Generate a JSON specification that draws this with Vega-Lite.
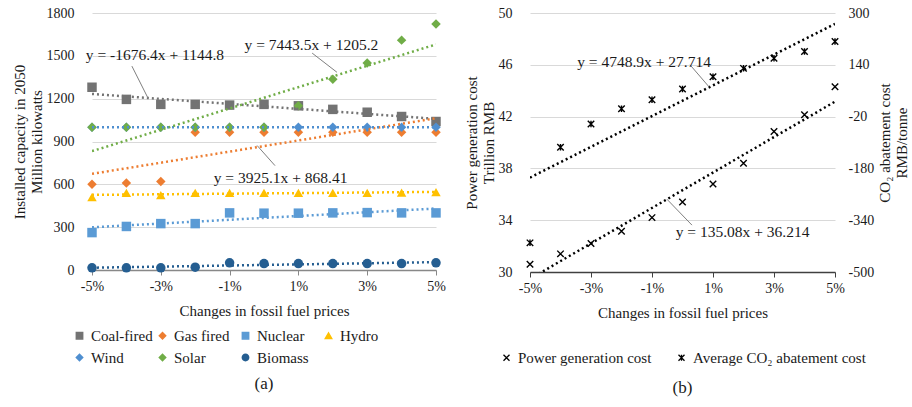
{
  "$schema": "https://vega.github.io/schema/vega-lite/v6.json",
  "padding": {"left": 12, "top": 6, "right": 5, "bottom": 5},
  "bounds": "flush",
  "spacing": 94,
  "resolve": {"scale": {"color": "independent", "shape": "independent"}, "legend": {"color": "independent", "shape": "independent"}},
  "config": {
    "font": "Liberation Serif",
    "view": {"stroke": null},
    "axis": {"labelFont": "Liberation Serif", "titleFont": "Liberation Serif", "labelFontSize": 14, "titleFontSize": 15, "titleFontWeight": "normal", "labelColor": "#1a1a1a", "titleColor": "#1a1a1a", "titleLineHeight": 17},
    "legend": {"labelFont": "Liberation Serif", "labelFontSize": 15, "labelColor": "#1a1a1a", "labelLimit": 300, "layout": {"bottom": {"anchor": "middle"}}},
    "title": {"font": "Liberation Serif", "fontWeight": "normal", "fontSize": 17, "color": "#1a1a1a"}
  },
  "datasets": {
    "cap": [
      {"x": -0.05, "series": "Coal-fired", "v": 1280}, {"x": -0.04, "series": "Coal-fired", "v": 1195}, {"x": -0.03, "series": "Coal-fired", "v": 1160}, {"x": -0.02, "series": "Coal-fired", "v": 1160}, {"x": -0.01, "series": "Coal-fired", "v": 1155}, {"x": 0, "series": "Coal-fired", "v": 1160}, {"x": 0.01, "series": "Coal-fired", "v": 1150}, {"x": 0.02, "series": "Coal-fired", "v": 1125}, {"x": 0.03, "series": "Coal-fired", "v": 1105}, {"x": 0.04, "series": "Coal-fired", "v": 1075}, {"x": 0.05, "series": "Coal-fired", "v": 1040},
      {"x": -0.05, "series": "Gas fired", "v": 600}, {"x": -0.04, "series": "Gas fired", "v": 610}, {"x": -0.03, "series": "Gas fired", "v": 620}, {"x": -0.02, "series": "Gas fired", "v": 965}, {"x": -0.01, "series": "Gas fired", "v": 965}, {"x": 0, "series": "Gas fired", "v": 965}, {"x": 0.01, "series": "Gas fired", "v": 965}, {"x": 0.02, "series": "Gas fired", "v": 965}, {"x": 0.03, "series": "Gas fired", "v": 965}, {"x": 0.04, "series": "Gas fired", "v": 965}, {"x": 0.05, "series": "Gas fired", "v": 965},
      {"x": -0.05, "series": "Nuclear", "v": 262}, {"x": -0.04, "series": "Nuclear", "v": 305}, {"x": -0.03, "series": "Nuclear", "v": 325}, {"x": -0.02, "series": "Nuclear", "v": 325}, {"x": -0.01, "series": "Nuclear", "v": 400}, {"x": 0, "series": "Nuclear", "v": 398}, {"x": 0.01, "series": "Nuclear", "v": 398}, {"x": 0.02, "series": "Nuclear", "v": 400}, {"x": 0.03, "series": "Nuclear", "v": 402}, {"x": 0.04, "series": "Nuclear", "v": 400}, {"x": 0.05, "series": "Nuclear", "v": 400},
      {"x": -0.05, "series": "Hydro", "v": 510}, {"x": -0.04, "series": "Hydro", "v": 540}, {"x": -0.03, "series": "Hydro", "v": 525}, {"x": -0.02, "series": "Hydro", "v": 540}, {"x": -0.01, "series": "Hydro", "v": 540}, {"x": 0, "series": "Hydro", "v": 540}, {"x": 0.01, "series": "Hydro", "v": 540}, {"x": 0.02, "series": "Hydro", "v": 540}, {"x": 0.03, "series": "Hydro", "v": 540}, {"x": 0.04, "series": "Hydro", "v": 542}, {"x": 0.05, "series": "Hydro", "v": 545},
      {"x": -0.05, "series": "Wind", "v": 1000}, {"x": -0.04, "series": "Wind", "v": 1000}, {"x": -0.03, "series": "Wind", "v": 1000}, {"x": -0.02, "series": "Wind", "v": 1000}, {"x": -0.01, "series": "Wind", "v": 1000}, {"x": 0, "series": "Wind", "v": 1000}, {"x": 0.01, "series": "Wind", "v": 1000}, {"x": 0.02, "series": "Wind", "v": 1000}, {"x": 0.03, "series": "Wind", "v": 1000}, {"x": 0.04, "series": "Wind", "v": 1000}, {"x": 0.05, "series": "Wind", "v": 1000},
      {"x": -0.05, "series": "Solar", "v": 1000}, {"x": -0.04, "series": "Solar", "v": 1000}, {"x": -0.03, "series": "Solar", "v": 1000}, {"x": -0.02, "series": "Solar", "v": 1000}, {"x": -0.01, "series": "Solar", "v": 1000}, {"x": 0, "series": "Solar", "v": 1000}, {"x": 0.01, "series": "Solar", "v": 1150}, {"x": 0.02, "series": "Solar", "v": 1336}, {"x": 0.03, "series": "Solar", "v": 1449}, {"x": 0.04, "series": "Solar", "v": 1610}, {"x": 0.05, "series": "Solar", "v": 1723},
      {"x": -0.05, "series": "Biomass", "v": 15}, {"x": -0.04, "series": "Biomass", "v": 15}, {"x": -0.03, "series": "Biomass", "v": 15}, {"x": -0.02, "series": "Biomass", "v": 20}, {"x": -0.01, "series": "Biomass", "v": 50}, {"x": 0, "series": "Biomass", "v": 45}, {"x": 0.01, "series": "Biomass", "v": 45}, {"x": 0.02, "series": "Biomass", "v": 45}, {"x": 0.03, "series": "Biomass", "v": 45}, {"x": 0.04, "series": "Biomass", "v": 45}, {"x": 0.05, "series": "Biomass", "v": 50}
    ],
    "capAnn": [
      {"x": -0.0317, "y": 1505, "label": "y = -1676.4x + 1144.8"},
      {"x": 0.0138, "y": 1575, "label": "y = 7443.5x + 1205.2"},
      {"x": 0.0048, "y": 647, "label": "y = 3925.1x + 868.41"}
    ],
    "capLead": [
      {"x": -0.0384, "y": 1428, "x2": -0.0337, "y2": 1203},
      {"x": 0.0140, "y": 1519, "x2": 0.0212, "y2": 1385},
      {"x": -0.0020, "y": 872, "x2": 0.0032, "y2": 731}
    ],
    "cost": [
      {"x": -0.05, "series": "Power generation cost", "v": 30.6}, {"x": -0.04, "series": "Power generation cost", "v": 31.4}, {"x": -0.03, "series": "Power generation cost", "v": 32.2}, {"x": -0.02, "series": "Power generation cost", "v": 33.15}, {"x": -0.01, "series": "Power generation cost", "v": 34.2}, {"x": 0, "series": "Power generation cost", "v": 35.4}, {"x": 0.01, "series": "Power generation cost", "v": 36.8}, {"x": 0.02, "series": "Power generation cost", "v": 38.4}, {"x": 0.03, "series": "Power generation cost", "v": 40.85}, {"x": 0.04, "series": "Power generation cost", "v": 42.15}, {"x": 0.05, "series": "Power generation cost", "v": 44.3}
    ],
    "co2": [
      {"x": -0.05, "series": "Average CO₂ abatement cost", "v": -410}, {"x": -0.04, "series": "Average CO₂ abatement cost", "v": -115}, {"x": -0.03, "series": "Average CO₂ abatement cost", "v": -43}, {"x": -0.02, "series": "Average CO₂ abatement cost", "v": 4}, {"x": -0.01, "series": "Average CO₂ abatement cost", "v": 32}, {"x": 0, "series": "Average CO₂ abatement cost", "v": 65}, {"x": 0.01, "series": "Average CO₂ abatement cost", "v": 103}, {"x": 0.02, "series": "Average CO₂ abatement cost", "v": 129}, {"x": 0.03, "series": "Average CO₂ abatement cost", "v": 160}, {"x": 0.04, "series": "Average CO₂ abatement cost", "v": 181}, {"x": 0.05, "series": "Average CO₂ abatement cost", "v": 212}
    ],
    "costAnn": [{"x": 0.0197, "y": 33.08, "label": "y = 135.08x + 36.214"}],
    "costLead": [{"x": -0.0051, "y": 35.62, "x2": 0.0031, "y2": 33.62}],
    "co2Ann": [{"x": -0.0126, "y": 149, "label": "y = 4748.9x + 27.714"}],
    "co2Lead": [{"x": 0.00246, "y": 140, "x2": 0.00869, "y2": 72}]
  },
  "hconcat": [
    {
      "width": 344,
      "height": 257,
      "title": {"text": "(a)", "orient": "bottom", "anchor": "middle", "offset": 10},
      "layer": [
        {
          "data": {"name": "cap"},
          "mark": {"type": "point", "filled": true, "opacity": 1, "size": 90},
          "encoding": {
            "x": {"field": "x", "type": "quantitative", "scale": {"domain": [-0.05, 0.05], "nice": false},
              "axis": {"values": [-0.05, -0.03, -0.01, 0.01, 0.03, 0.05], "labelExpr": "(datum.value < 0 ? '-' : '') + format(abs(datum.value), '.0%')", "title": "Changes in fossil fuel prices", "grid": false, "domainColor": "#888888", "domainWidth": 1.5, "tickColor": "#888888", "tickSize": 5, "labelPadding": 4, "titlePadding": 10, "labelFlush": false}},
            "y": {"field": "v", "type": "quantitative", "scale": {"domain": [0, 1800], "nice": false},
              "axis": {"values": [0, 300, 600, 900, 1200, 1500, 1800], "format": "d", "title": ["Installed capacity in 2050", "Million kilowatts"], "grid": true, "gridColor": "#d9d9d9", "domain": false, "ticks": false, "labelPadding": 18, "titlePadding": 2}},
            "color": {"field": "series", "type": "nominal",
              "scale": {"domain": ["Coal-fired", "Gas fired", "Nuclear", "Hydro", "Wind", "Solar", "Biomass"], "range": ["#737373", "#ed7d31", "#5b9bd5", "#ffc000", "#4f8fd0", "#70ad47", "#255e91"]},
              "legend": {"title": null, "orient": "none", "legendX": -20, "legendY": 315, "direction": "horizontal", "columns": 4, "gridAlign": "all", "columnPadding": 2, "rowPadding": 6, "symbolSize": 40, "labelFont": "Liberation Serif", "labelFontSize": 15}},
            "shape": {"field": "series", "type": "nominal",
              "scale": {"domain": ["Coal-fired", "Gas fired", "Nuclear", "Hydro", "Wind", "Solar", "Biomass"], "range": ["square", "diamond", "square", "triangle-up", "diamond", "diamond", "circle"]},
              "legend": {"title": null, "orient": "none", "legendX": -20, "legendY": 315, "direction": "horizontal", "columns": 4, "gridAlign": "all", "columnPadding": 2, "rowPadding": 6, "symbolSize": 40, "labelFont": "Liberation Serif", "labelFontSize": 15}}
          }
        },
        {
          "data": {"name": "cap"},
          "transform": [{"regression": "v", "on": "x", "groupby": ["series"], "extent": [-0.05, 0.05]}],
          "mark": {"type": "line", "strokeDash": [2, 3], "strokeWidth": 2.5, "clip": true},
          "encoding": {
            "x": {"field": "x", "type": "quantitative"},
            "y": {"field": "v", "type": "quantitative"},
            "color": {"field": "series", "type": "nominal"}
          }
        },
        {
          "data": {"name": "capLead"},
          "mark": {"type": "rule", "color": "#7f7f7f", "strokeWidth": 1},
          "encoding": {"x": {"field": "x", "type": "quantitative"}, "y": {"field": "y", "type": "quantitative"}, "x2": {"field": "x2"}, "y2": {"field": "y2"}}
        },
        {
          "data": {"name": "capAnn"},
          "mark": {"type": "text", "fontSize": 15.5, "font": "Liberation Serif", "color": "#1a1a1a", "baseline": "middle", "align": "center"},
          "encoding": {"x": {"field": "x", "type": "quantitative"}, "y": {"field": "y", "type": "quantitative"}, "text": {"field": "label"}}
        }
      ]
    },
    {
      "width": 305,
      "height": 259,
      "title": {"text": "(b)", "orient": "bottom", "anchor": "middle", "offset": 14},
      "layer": [
        {
          "layer": [
            {
              "data": {"name": "cost"},
              "transform": [{"regression": "v", "on": "x", "extent": [-0.05, 0.05]}],
              "mark": {"type": "line", "strokeDash": [2, 3], "strokeWidth": 2.5, "color": "#000000", "clip": true},
              "encoding": {
                "x": {"field": "x", "type": "quantitative", "scale": {"domain": [-0.05, 0.05], "nice": false},
                  "axis": {"values": [-0.05, -0.03, -0.01, 0.01, 0.03, 0.05], "labelExpr": "(datum.value < 0 ? '-' : '') + format(abs(datum.value), '.0%')", "title": "Changes in fossil fuel prices", "grid": false, "domainColor": "#404040", "domainWidth": 1.5, "tickColor": "#404040", "tickSize": 5, "labelPadding": 4, "titlePadding": 10, "labelFlush": false}},
                "y": {"field": "v", "type": "quantitative", "scale": {"domain": [30, 50], "nice": false},
                  "axis": {"values": [30, 34, 38, 42, 46, 50], "title": ["Power generation cost", "Trillion RMB"], "grid": true, "gridColor": "#d9d9d9", "domain": false, "ticks": false, "labelPadding": 18, "titlePadding": 2}}
              }
            },
            {
              "data": {"name": "cost"},
              "mark": {"type": "point", "filled": false, "strokeWidth": 1.4, "size": 42, "color": "#000000", "opacity": 1},
              "encoding": {
                "x": {"field": "x", "type": "quantitative"},
                "y": {"field": "v", "type": "quantitative"},
                "shape": {"field": "series", "type": "nominal",
                  "scale": {"domain": ["Power generation cost", "Average CO₂ abatement cost"], "range": ["M-1,-1L1,1M-1,1L1,-1", "M-1,-1L1,1M-1,1L1,-1M0,-1L0,1"]},
                  "legend": {"title": null, "orient": "bottom", "direction": "horizontal", "symbolStrokeColor": "#000000", "symbolStrokeWidth": 1.3, "symbolSize": 36, "columnPadding": 22, "offset": 30, "labelFont": "Liberation Serif", "labelFontSize": 15, "labelLimit": 300}}
              }
            },
            {
              "data": {"name": "costLead"},
              "mark": {"type": "rule", "color": "#7f7f7f", "strokeWidth": 1},
              "encoding": {"x": {"field": "x", "type": "quantitative"}, "y": {"field": "y", "type": "quantitative"}, "x2": {"field": "x2"}, "y2": {"field": "y2"}}
            },
            {
              "data": {"name": "costAnn"},
              "mark": {"type": "text", "fontSize": 15.5, "font": "Liberation Serif", "color": "#1a1a1a", "baseline": "middle", "align": "center"},
              "encoding": {"x": {"field": "x", "type": "quantitative"}, "y": {"field": "y", "type": "quantitative"}, "text": {"field": "label"}}
            }
          ]
        },
        {
          "layer": [
            {
              "data": {"name": "co2"},
              "transform": [{"regression": "v", "on": "x", "extent": [-0.05, 0.05]}],
              "mark": {"type": "line", "strokeDash": [2, 3], "strokeWidth": 2.5, "color": "#000000", "clip": true},
              "encoding": {
                "x": {"field": "x", "type": "quantitative"},
                "y": {"field": "v", "type": "quantitative", "scale": {"domain": [-500, 300], "nice": false},
                  "axis": {"orient": "right", "values": [-500, -340, -180, -20, 140, 300], "labelExpr": "(datum.value < 0 ? '-' : '') + abs(datum.value)", "title": ["CO₂ abatement cost", "RMB/tonne"], "titleAngle": 270, "grid": false, "domain": false, "ticks": false, "labelPadding": 13, "titlePadding": 2}}
              }
            },
            {
              "data": {"name": "co2"},
              "mark": {"type": "point", "filled": false, "strokeWidth": 1.4, "size": 42, "color": "#000000", "opacity": 1},
              "encoding": {
                "x": {"field": "x", "type": "quantitative"},
                "y": {"field": "v", "type": "quantitative"},
                "shape": {"field": "series", "type": "nominal"}
              }
            },
            {
              "data": {"name": "co2Lead"},
              "mark": {"type": "rule", "color": "#7f7f7f", "strokeWidth": 1},
              "encoding": {"x": {"field": "x", "type": "quantitative"}, "y": {"field": "y", "type": "quantitative"}, "x2": {"field": "x2"}, "y2": {"field": "y2"}}
            },
            {
              "data": {"name": "co2Ann"},
              "mark": {"type": "text", "fontSize": 15.5, "font": "Liberation Serif", "color": "#1a1a1a", "baseline": "middle", "align": "center"},
              "encoding": {"x": {"field": "x", "type": "quantitative"}, "y": {"field": "y", "type": "quantitative"}, "text": {"field": "label"}}
            }
          ]
        }
      ],
      "resolve": {"scale": {"y": "independent"}}
    }
  ]
}
